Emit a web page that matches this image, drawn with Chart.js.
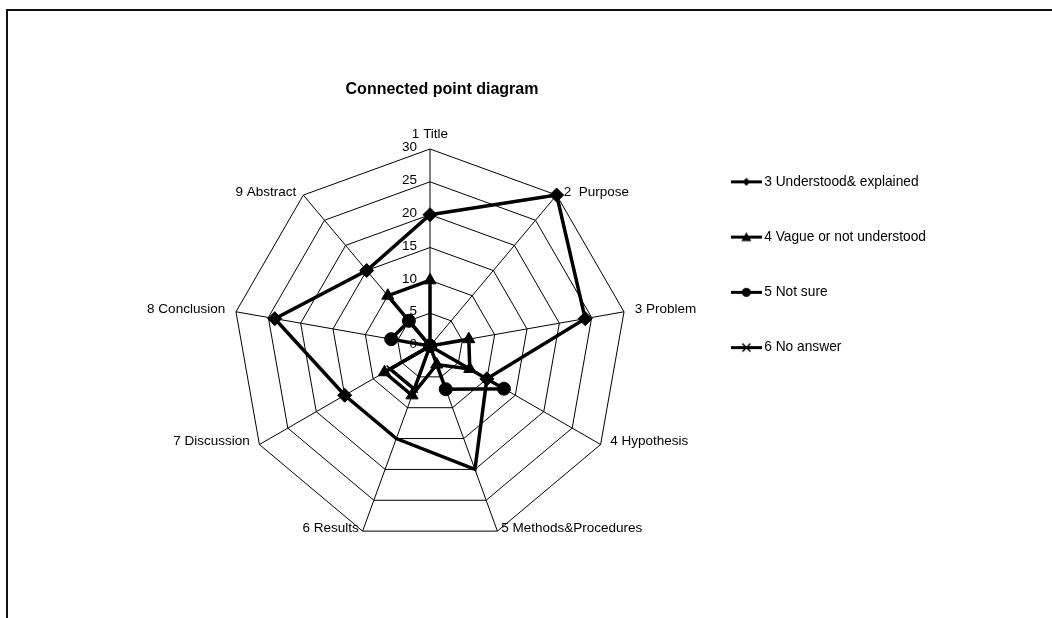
<!DOCTYPE html>
<html>
<head>
<meta charset="utf-8">
<script src="https://cdn.jsdelivr.net/npm/chart.js@4.4.1/dist/chart.umd.min.js"></script>
<style>
  html, body { margin:0; padding:0; background:#fff; overflow:hidden; }
  body { width:1052px; height:618px; position:relative; }
  #frame { position:absolute; left:6px; top:9px; width:1100px; height:700px; border-top:2px solid #111; border-left:2px solid #111; }
  #radar { position:absolute; left:-60px; top:0; }
</style>
</head>
<body>
<div id="frame"></div>
<canvas id="radar" width="1112" height="618"></canvas>
<script>
// data
const categories = ["1 Title", "2  Purpose", "3 Problem", "4 Hypothesis", "5 Methods&Procedures",
                    "6 Results", "7 Discussion", "8 Conclusion", "9 Abstract"];
const seriesNames = ["3 Understood& explained", "4 Vague or not understood", "5 Not sure", "6 No answer"];
const understood = [20, 30, 24, 10, 20, 15, 15, 24, 15];
const vague      = [10, 0, 6, 7, 3, 8, 8, 0, 10];
const notSure    = [0, 0, 0, 13, 7, 0, 0, 6, 5];
const noAnswer   = [0, 0, 0, 0, 0, 7, 7, 0, 0];
const tickMax = 30, tickStep = 5;

// layout (canvas starts 60px left of the page)
const CX = 490, CY = 346, RADIUS = 197;
const FONT = '"Liberation Sans", Arial, sans-serif';
Chart.defaults.font.family = FONT;
Chart.defaults.color = "#000";

// legend icons: short line with the marker on it
function legendIcon(kind){
  const c = document.createElement("canvas");
  c.width = 31; c.height = 13;
  const g = c.getContext("2d");
  g.strokeStyle = "#000"; g.fillStyle = "#000";
  g.lineWidth = 3;
  g.beginPath(); g.moveTo(0, 6.5); g.lineTo(31, 6.5); g.stroke();
  const x = 15.5, y = 6.5;
  g.beginPath();
  if (kind === "diamond") {
    g.moveTo(x, y - 4); g.lineTo(x + 4, y); g.lineTo(x, y + 4); g.lineTo(x - 4, y); g.closePath(); g.fill();
  } else if (kind === "triangle") {
    g.moveTo(x, y - 5); g.lineTo(x + 5, y + 4); g.lineTo(x - 5, y + 4); g.closePath(); g.fill();
  } else if (kind === "circle") {
    g.arc(x, y, 4.5, 0, Math.PI * 2); g.fill();
  } else {
    g.lineWidth = 1.5;
    g.moveTo(x - 4, y - 4); g.lineTo(x + 4, y + 4);
    g.moveTo(x + 4, y - 4); g.lineTo(x - 4, y + 4); g.stroke();
  }
  return c;
}
const icons = [legendIcon("diamond"), legendIcon("triangle"), legendIcon("circle"), legendIcon("x")];

// tick numbers and axis names, placed with the scale's own geometry
const radarText = {
  id: "radarText",
  beforeDatasetsDraw(chart){
    const r = chart.scales.r, ctx = chart.ctx;
    ctx.save();
    ctx.fillStyle = "#000";
    ctx.font = "13.5px " + FONT;
    ctx.textAlign = "right"; ctx.textBaseline = "middle";
    r.ticks.forEach(t => {
      const d = r.getDistanceFromCenterForValue(t.value);
      ctx.fillText(String(t.value), r.xCenter - 13, r.yCenter - d - 1.5);
    });
    categories.forEach((name, i) => {
      const corner = r.getPointPosition(i, r.drawingArea);
      const p = r.getPointPosition(i, r.drawingArea + 11);
      const dx = p.x - r.xCenter;
      if (Math.abs(dx) < 1) {
        ctx.textAlign = "center"; ctx.textBaseline = "bottom";
        ctx.fillText(name, p.x, p.y + 3);
      } else {
        ctx.textAlign = dx > 0 ? "left" : "right"; ctx.textBaseline = "middle";
        ctx.fillText(name, p.x, corner.y - 3);
      }
    });
    ctx.restore();
  }
};

function series(label, data, style, radius, bw){
  return { label, data, borderColor:"#000", borderWidth:3.5, fill:false,
           pointStyle:style, pointRadius:radius, pointHoverRadius:radius,
           pointBackgroundColor:"#000", pointBorderColor:"#000", pointBorderWidth:bw, clip:false };
}

new Chart(document.getElementById("radar"), {
  type: "radar",
  data: {
    labels: categories,
    datasets: [
      series(seriesNames[0], understood, "rectRot", 7, 1),
      series(seriesNames[1], vague, "triangle", 7, 1),
      series(seriesNames[2], notSure, "circle", 6.5, 1),
      series(seriesNames[3], noAnswer, "crossRot", 5, 1.5)
    ]
  },
  options: {
    responsive:false, animation:false,
    layout: { padding: { left:8, right:116, top:10, bottom:222 } },
    elements: { line: { tension:0 } },
    scales: {
      r: {
        min:0, max:tickMax,
        ticks: { stepSize:tickStep, display:false },
        grid: { color:"#000", lineWidth:1 },
        angleLines: { color:"#000", lineWidth:1 },
        pointLabels: { display:false },
        afterFit(scale){ scale.xCenter = CX; scale.yCenter = CY; scale.drawingArea = RADIUS; }
      }
    },
    plugins: {
      tooltip: { enabled:false },
      title: { display:true, text:"Connected point diagram", color:"#000",
               font:{ size:16, weight:"bold" }, padding:{ top:70, bottom:0 } },
      legend: {
        position:"right", align:"end",
        labels: {
          usePointStyle:true, pointStyleWidth:22, padding:41.5, color:"#000",
          font:{ size:13.75 },
          generateLabels: (chart) => chart.data.datasets.map((ds, i) => ({
            text: ds.label, pointStyle: icons[i], fillStyle:"#000", strokeStyle:"#000",
            lineWidth:0, hidden:false, datasetIndex:i, fontColor:"#000"
          }))
        }
      }
    }
  },
  plugins: [radarText]
});
</script>
</body>
</html>
